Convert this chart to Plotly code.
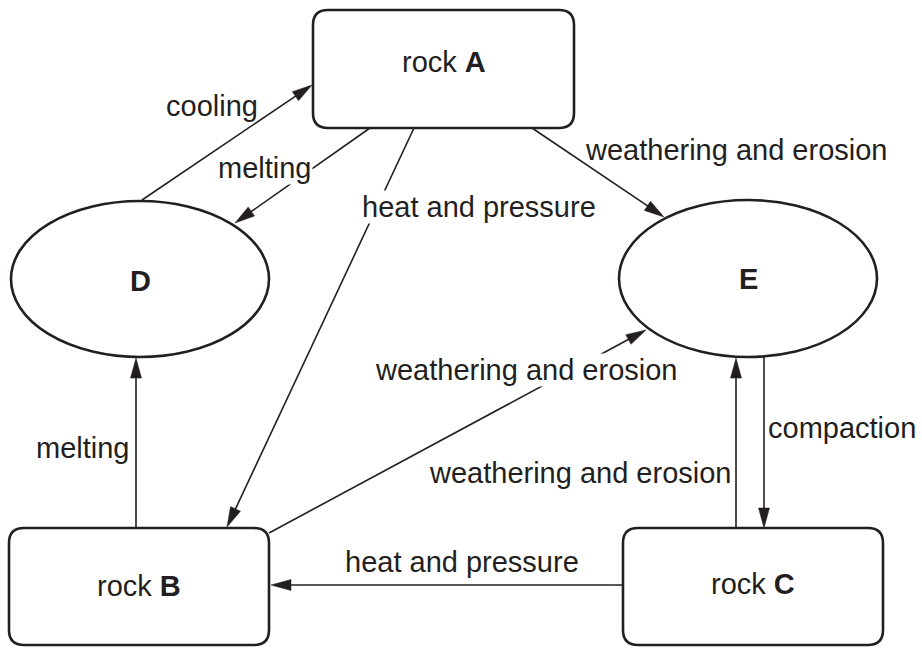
import math
import plotly.graph_objects as go

# ---- content (text) ----
node_names = ["A", "B", "C", "D", "E"]
node_texts = ["rock <b>A</b>", "rock <b>B</b>", "rock <b>C</b>", "<b>D</b>", "<b>E</b>"]
edge_from = ["D", "A", "A", "A", "B", "B", "C", "E", "C"]
edge_to = ["A", "D", "B", "E", "E", "D", "E", "C", "B"]
edge_labels = ["cooling", "melting", "heat and pressure", "weathering and erosion",
               "weathering and erosion", "melting", "weathering and erosion",
               "compaction", "heat and pressure"]

# ---- layout geometry (pixels) ----
node_kind = {"A": "rect", "B": "rect", "C": "rect", "D": "ellipse", "E": "ellipse"}
node_box = {"A": (313, 10, 574, 128), "B": (9, 528, 269, 645), "C": (623, 528, 883, 645),
            "D": (11, 201, 269, 357), "E": (619, 200, 877, 357)}
node_text_pos = {"A": (444, 62), "B": (139, 586), "C": (753, 584), "D": (140, 281), "E": (748, 279)}
edge_start = [(142, 200), (370, 128), (414, 128), (532, 128), (269, 533), (136, 528),
              (736, 528), (764, 357), (623, 585)]
edge_tip = [(312, 85), (235, 223), (227, 527), (664, 217), (646, 330), (136, 358),
            (736, 358), (764, 528), (271, 585)]
label_pos = [(212, 106), (265, 168), (479, 207), (736, 150), (526, 370), (83, 448),
             (580, 473), (842, 428), (462, 562)]
label_bg = [False, True, True, False, True, False, False, False, False]

INK = "#231f20"
FONT = "Liberation Sans, Arial, Helvetica, sans-serif"
FS = 29
W, H = 922, 649

shapes = []
annotations = []


def rounded_rect(x0, y0, x1, y1, r):
    return (f"M{x0 + r},{y0} L{x1 - r},{y0} Q{x1},{y0} {x1},{y0 + r} "
            f"L{x1},{y1 - r} Q{x1},{y1} {x1 - r},{y1} L{x0 + r},{y1} "
            f"Q{x0},{y1} {x0},{y1 - r} L{x0},{y0 + r} Q{x0},{y0} {x0 + r},{y0} Z")


for name, txt in zip(node_names, node_texts):
    x0, y0, x1, y1 = node_box[name]
    if node_kind[name] == "rect":
        shapes.append(dict(type="path", path=rounded_rect(x0, y0, x1, y1, 15),
                           line=dict(color=INK, width=2.6), fillcolor="rgba(0,0,0,0)"))
    else:
        shapes.append(dict(type="circle", x0=x0, y0=y0, x1=x1, y1=y1,
                           line=dict(color=INK, width=2.6), fillcolor="rgba(0,0,0,0)"))
    tx, ty = node_text_pos[name]
    annotations.append(dict(x=tx, y=ty, text=txt, showarrow=False, xanchor="center",
                            yanchor="middle", font=dict(family=FONT, size=FS, color=INK)))

AL, AW = 20, 5.5
for (sx, sy), (ex, ey), lab, (lx, ly), bg in zip(edge_start, edge_tip, edge_labels, label_pos, label_bg):
    dx, dy = ex - sx, ey - sy
    d = math.hypot(dx, dy)
    ux, uy = dx / d, dy / d
    bx, by = ex - ux * AL, ey - uy * AL
    px, py = -uy, ux
    shapes.append(dict(type="line", x0=sx, y0=sy, x1=bx + ux * 2, y1=by + uy * 2,
                       line=dict(color=INK, width=1.6)))
    shapes.append(dict(type="path",
                       path=f"M{ex},{ey} L{bx + px * AW},{by + py * AW} L{bx - px * AW},{by - py * AW} Z",
                       line=dict(color=INK, width=0.5), fillcolor=INK))
    annotations.append(dict(x=lx, y=ly, text=lab, showarrow=False, xanchor="center",
                            yanchor="middle", font=dict(family=FONT, size=FS, color=INK),
                            bgcolor="white" if bg else None, borderpad=0))

fig = go.Figure()
fig.update_layout(width=W, height=H, autosize=False,
                  margin=dict(l=0, r=0, t=0, b=0),
                  paper_bgcolor="white", plot_bgcolor="white",
                  xaxis=dict(range=[0, W], visible=False, fixedrange=True),
                  yaxis=dict(range=[H, 0], visible=False, fixedrange=True),
                  shapes=shapes, annotations=annotations, showlegend=False)
fig.write_html("out.html", config={"displayModeBar": False},
               post_script="document.body.style.margin='0';document.body.style.overflow='hidden';")
